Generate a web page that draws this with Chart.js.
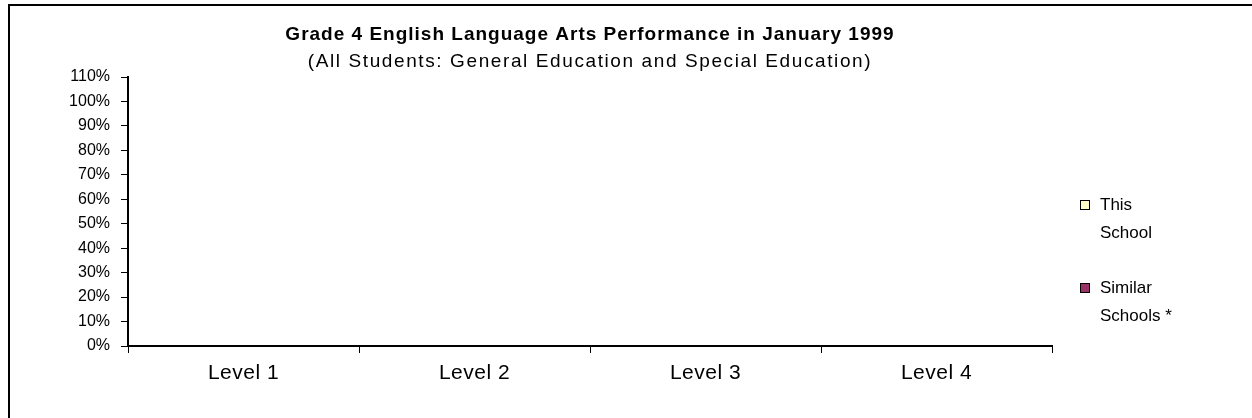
<!DOCTYPE html>
<html>
<head>
<meta charset="utf-8">
<script src="https://cdn.jsdelivr.net/npm/chart.js@4/dist/chart.umd.min.js"></script>
<style>
    html, body { margin: 0; padding: 0; background: #fff; }
    #wrap { width: 1252px; height: 418px; position: relative; }
</style>
</head>
<body>
<div id="wrap"><canvas id="chart"></canvas></div>
<script>
// Chart data
const categories = ['Level 1', 'Level 2', 'Level 3', 'Level 4'];
const thisSchool = [null, null, null, null];      // no bars shown in the picture
const similarSchools = [null, null, null, null];  // no bars shown in the picture
const legendLabels = [['This', 'School'], ['Similar', 'Schools *']];
const titleText = 'Grade 4 English Language Arts Performance in January 1999';
const subtitleText = '(All Students: General Education and Special Education)';

const FONT = '"Liberation Sans", Arial, sans-serif';

// Frame, titles, category labels and two-line legend drawn on top of the chart
const decorPlugin = {
    id: 'decor',
    afterDraw(chart) {
        const ctx = chart.ctx;
        const area = chart.chartArea;
        const cx = (area.left + area.right) / 2;
        ctx.save();

        // outer frame
        ctx.strokeStyle = '#000';
        ctx.lineWidth = 2;
        ctx.strokeRect(9, 5, 1400, 600);

        // titles (old Excel output is spaced out wide)
        ctx.fillStyle = '#000';
        ctx.textAlign = 'center';
        ctx.textBaseline = 'middle';
        ctx.font = 'bold 19px ' + FONT;
        ctx.letterSpacing = '1px';
        ctx.fillText(titleText, cx, 35);
        ctx.font = '19px ' + FONT;
        ctx.letterSpacing = '1.6px';
        ctx.fillText(subtitleText, cx, 62);

        // category labels, placed by the x scale
        const xs = chart.scales.x;
        ctx.font = '21px ' + FONT;
        ctx.letterSpacing = '0.5px';
        categories.forEach((c, i) => {
            ctx.fillText(c, xs.getPixelForTick(i), 373);
        });

        // legend
        ctx.letterSpacing = '0px';
        ctx.font = '17px ' + FONT;
        ctx.textAlign = 'left';
        const tops = [205, 288];
        chart.data.datasets.forEach((ds, i) => {
            const y = tops[i];
            ctx.fillStyle = ds.backgroundColor;
            ctx.fillRect(1080, y - 5, 10, 10);
            ctx.lineWidth = 1;
            ctx.strokeStyle = '#000';
            ctx.strokeRect(1080.5, y - 4.5, 9, 9);
            ctx.fillStyle = '#000';
            legendLabels[i].forEach((line, j) => {
                ctx.fillText(line, 1100, y + j * 28);
            });
        });
        ctx.restore();
    }
};

document.addEventListener('DOMContentLoaded', () => {
    const ctx = document.getElementById('chart').getContext('2d');
    new Chart(ctx, {
        type: 'bar',
        data: {
            labels: categories,
            datasets: [
                {
                    label: 'This School',
                    data: thisSchool,
                    backgroundColor: '#FFFFCC',
                    borderColor: '#000',
                    borderWidth: 1
                },
                {
                    label: 'Similar Schools *',
                    data: similarSchools,
                    backgroundColor: '#993366',
                    borderColor: '#000',
                    borderWidth: 1
                }
            ]
        },
        options: {
            responsive: true,
            maintainAspectRatio: false,
            animation: false,
            layout: {
                padding: { left: 0, top: 77, right: 200, bottom: 0 }
            },
            scales: {
                x: {
                    grid: {
                        offset: true,
                        drawOnChartArea: false,
                        drawTicks: true,
                        tickLength: 7,
                        color: '#000',
                        lineWidth: 1
                    },
                    border: { color: '#000', width: 2 },
                    ticks: { display: false },
                    afterFit(scale) { scale.height = 72; }
                },
                y: {
                    min: 0,
                    max: 1.1,
                    grid: {
                        drawOnChartArea: false,
                        drawTicks: true,
                        tickLength: 7,
                        color: '#000',
                        lineWidth: 1
                    },
                    border: { color: '#000', width: 2 },
                    ticks: {
                        stepSize: 0.1,
                        color: '#000',
                        padding: 11,
                        autoSkip: false,
                        font: { family: FONT, size: 16 },
                        callback: v => Math.round(v * 100) + '%'
                    },
                    afterFit(scale) { scale.width = 128; }
                }
            },
            plugins: {
                legend: { display: false },
                tooltip: { enabled: false }
            }
        },
        plugins: [decorPlugin]
    });
});
</script>
</body>
</html>
